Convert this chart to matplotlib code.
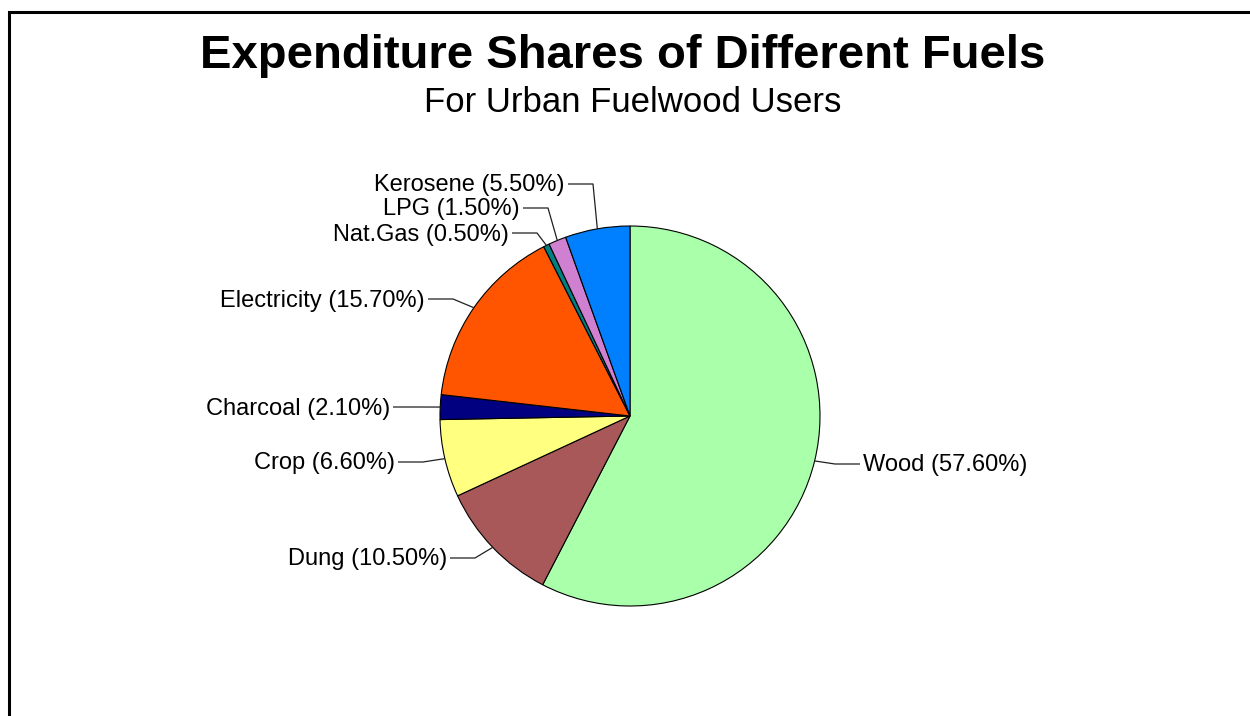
import matplotlib
matplotlib.use("Agg")
import numpy as np
import matplotlib.pyplot as plt

plt.rcParams["font.family"] = ["Liberation Sans", "DejaVu Sans"]

# fuel expenditure shares, clockwise from 12 o'clock
fuels = ["Wood", "Dung", "Crop", "Charcoal", "Electricity", "Nat.Gas", "LPG", "Kerosene"]
shares = [57.6, 10.5, 6.6, 2.1, 15.7, 0.5, 1.5, 5.5]
colors = ["#AAFFAA", "#A85858", "#FFFF80", "#000080", "#FF5500", "#008080", "#D080D0", "#0080FF"]

# elbow points of the leader lines (pixels, y measured from the top)
elbows = [(835, 464), (475, 558), (423, 462), (418, 407), (453, 299), (537, 233), (548, 208), (593, 184)]

W, H = 1250, 716
fig = plt.figure(figsize=(W / 100, H / 100), dpi=100)
ax = fig.add_axes([0, 0, 1, 1])

cx, cy, r = 630, H - 416, 190
wedges, _ = ax.pie(shares, colors=colors, startangle=90, counterclock=False,
                   center=(cx, cy), radius=r, frame=True,
                   wedgeprops=dict(edgecolor="black", linewidth=0.8))
ax.set_xlim(0, W)
ax.set_ylim(0, H)
ax.axis("off")

for w, name, val, (ex, ey) in zip(wedges, fuels, shares, elbows):
    mid = np.deg2rad((w.theta1 + w.theta2) / 2)
    px, py = cx + r * np.cos(mid), cy + r * np.sin(mid)
    ey = H - ey
    side = 1 if ex > cx else -1
    hx = ex + side * 25
    ax.plot([px, ex, hx], [py, ey, ey], color="#202020", lw=0.9, solid_capstyle="butt")
    ax.text(hx + side * 3, ey - 1.5, f"{name} ({val:.2f}%)", fontsize=17,
            ha="left" if side > 0 else "right", va="center")

ax.text(623, H - 56, "Expenditure Shares of Different Fuels", fontsize=34,
        fontweight="bold", ha="center", va="center")
ax.text(633, H - 102, "For Urban Fuelwood Users", fontsize=25, ha="center", va="center")

# page frame, only the top and left edges fall inside the image
ax.plot([8.5, 8.5, W + 5], [-5, H - 11.5, H - 11.5], color="black", lw=2.2,
        clip_on=False, solid_joinstyle="miter")

fig.savefig("out.png", dpi=100)
